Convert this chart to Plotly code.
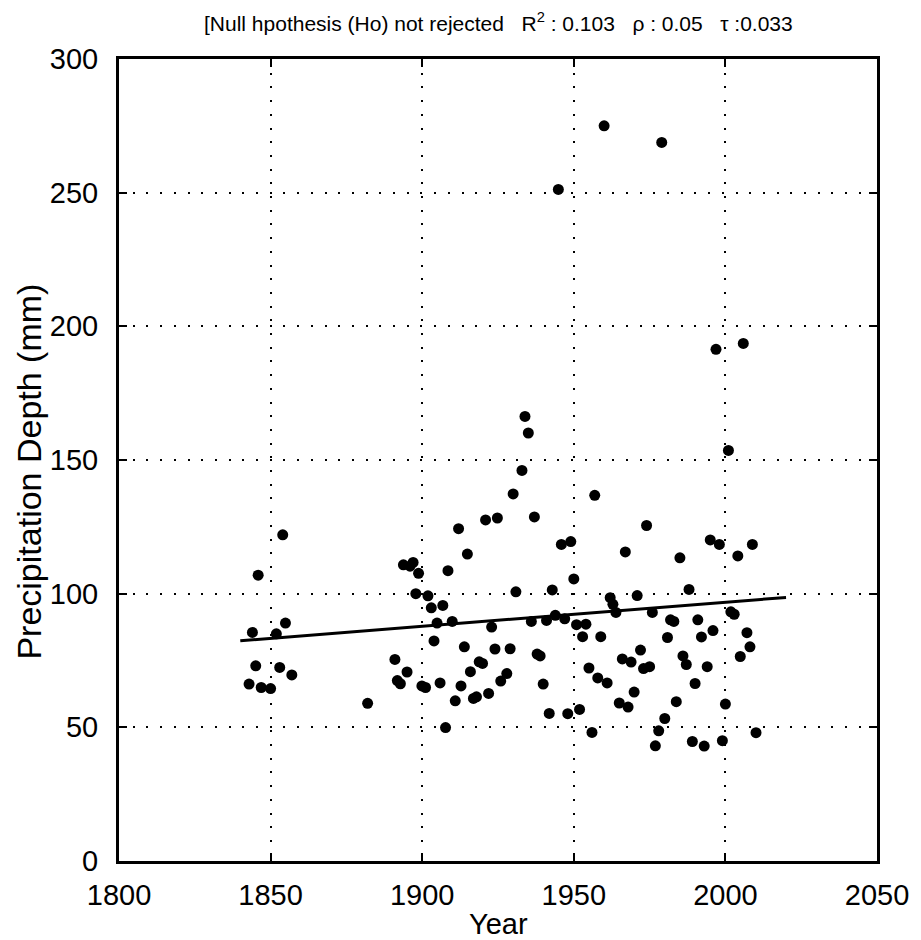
import plotly.graph_objects as go

years = [1842.9, 1844.0, 1845.1, 1845.9, 1846.9, 1850.0, 1851.9, 1853.0, 1854.0, 1854.9, 1857.0, 1882.0,
         1891.0, 1891.8, 1892.8, 1893.8, 1895.0, 1896.0, 1897.0, 1897.9, 1898.8, 1899.9, 1901.1, 1901.9,
         1903.0, 1903.9, 1904.9, 1905.9, 1906.8, 1907.7, 1908.5, 1909.9, 1910.9, 1912.0, 1912.8, 1913.9,
         1914.9, 1915.9, 1916.9, 1917.9, 1918.8, 1919.9, 1920.9, 1921.9, 1922.9, 1924.0, 1924.8, 1925.9,
         1927.9, 1929.0, 1930.0, 1930.9, 1932.9, 1933.9, 1935.0, 1936.0, 1937.0, 1937.9, 1938.9, 1939.9,
         1941.0, 1941.9, 1942.9, 1943.9, 1944.9, 1945.9, 1947.0, 1948.0, 1949.0, 1950.0, 1950.9, 1951.9,
         1952.9, 1954.0, 1955.0, 1956.0, 1956.9, 1957.9, 1958.9, 1960.0, 1961.0, 1962.0, 1962.9, 1963.9,
         1965.0, 1966.0, 1967.0, 1967.9, 1968.9, 1969.9, 1970.9, 1972.0, 1973.0, 1974.0, 1975.0, 1975.9,
         1976.9, 1978.0, 1979.0, 1980.0, 1980.9, 1981.9, 1983.0, 1983.8, 1985.0, 1986.0, 1987.1, 1988.0,
         1989.1, 1990.0, 1990.9, 1992.1, 1993.0, 1994.0, 1995.0, 1995.9, 1996.9, 1998.0, 1999.0, 2000.0,
         2001.0, 2001.8, 2002.9, 2004.1, 2004.9, 2005.9, 2007.1, 2008.1, 2008.9, 2010.1]

depth = [66.2, 85.5, 73.0, 106.9, 64.9, 64.5, 85.0, 72.4, 122.0, 89.0, 69.6, 59.0,
         75.4, 67.5, 66.3, 110.8, 70.7, 110.3, 111.7, 100.0, 107.6, 65.5, 64.9, 99.2,
         94.7, 82.3, 89.0, 66.6, 95.6, 49.9, 108.6, 89.6, 59.9, 124.3, 65.5, 80.1,
         114.8, 70.8, 60.8, 61.4, 74.5, 73.9, 127.6, 62.7, 87.5, 79.3, 128.3, 67.3,
         70.1, 79.4, 137.3, 100.7, 146.1, 166.3, 160.1, 89.6, 128.7, 77.4, 76.7, 66.2,
         90.0, 55.2, 101.4, 91.9, 251.2, 118.4, 90.6, 55.1, 119.5, 105.5, 88.4, 56.7,
         83.9, 88.6, 72.2, 48.1, 136.8, 68.5, 83.9, 275.0, 66.6, 98.5, 96.0, 93.0,
         59.1, 75.6, 115.6, 57.6, 74.4, 63.2, 99.3, 78.9, 72.0, 125.5, 72.7, 93.0,
         43.1, 48.7, 268.8, 53.3, 83.6, 90.2, 89.6, 59.6, 113.4, 76.7, 73.5, 101.6,
         44.7, 66.4, 90.2, 83.8, 43.0, 72.7, 120.1, 86.2, 191.4, 118.4, 45.0, 58.7,
         153.6, 93.2, 92.3, 114.1, 76.5, 193.6, 85.4, 80.1, 118.4, 48.0]

trend_years = [1840, 2020]
trend_depth = [82.4, 98.6]

x_ticks = [1800, 1850, 1900, 1950, 2000, 2050]
y_ticks = [0, 50, 100, 150, 200, 250, 300]

title_text = ("[Null hpothesis (Ho) not rejected\u00a0\u00a0\u00a0R<sup>2</sup> : 0.103"
              "\u00a0\u00a0\u00a0\u03c1 : 0.05\u00a0\u00a0\u00a0\u03c4 :0.033")

FONT = "Liberation Sans, Arial, Helvetica, sans-serif"

fig = go.Figure()
fig.add_trace(go.Scatter(x=years, y=depth, mode="markers",
                         marker=dict(color="black", size=11, line=dict(width=0)),
                         showlegend=False))
fig.add_trace(go.Scatter(x=trend_years, y=trend_depth, mode="lines",
                         line=dict(color="black", width=3), showlegend=False))

axis_common = dict(
    showgrid=True, gridcolor="black", gridwidth=1.6, griddash="2px,11.7px",
    showline=True, linewidth=3, linecolor="black", mirror="ticks",
    ticks="inside", ticklen=8, tickwidth=2, tickcolor="black",
    zeroline=False, tickfont=dict(family=FONT, size=29, color="black"),
)

fig.update_xaxes(range=[1800, 2050], tickvals=x_ticks, ticklabelstandoff=6, **axis_common)
fig.update_yaxes(range=[0, 300], tickvals=y_ticks, ticklabelstandoff=12, **axis_common)

fig.add_annotation(text=title_text, xref="paper", yref="paper", x=0.5, y=1 + 37 / 802,
                   xanchor="center", yanchor="middle", showarrow=False,
                   font=dict(family=FONT, size=21, color="black"))
fig.add_annotation(text="Year", xref="paper", yref="paper", x=0.5, y=-63 / 802,
                   xanchor="center", yanchor="middle", showarrow=False,
                   font=dict(family=FONT, size=29, color="black"))
fig.add_annotation(text="Precipitation Depth (mm)", xref="paper", yref="paper",
                   x=-(119 - 28) / 763, y=(861 - 472) / 802, xanchor="center", yanchor="middle",
                   textangle=-90, showarrow=False,
                   font=dict(family=FONT, size=34, color="black"))

fig.update_layout(width=921, height=940, margin=dict(l=119, r=39, t=59, b=79),
                  paper_bgcolor="white", plot_bgcolor="white")

fig.write_html("out.html")
